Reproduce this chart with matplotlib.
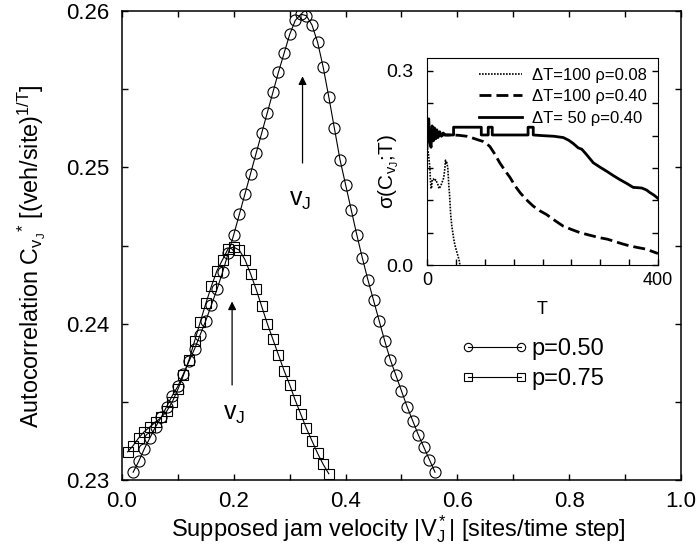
import numpy as np
import matplotlib
matplotlib.use('Agg')
import matplotlib.pyplot as plt
from matplotlib.ticker import MultipleLocator

plt.rcParams['font.family'] = ['Liberation Sans', 'DejaVu Sans']
plt.rcParams['mathtext.fontset'] = 'custom'
plt.rcParams['mathtext.rm'] = 'Liberation Sans'
plt.rcParams['mathtext.it'] = 'Liberation Sans:italic'

# main panel: autocorrelation vs supposed jam velocity
v_p050 = np.round(np.arange(0.02, 0.565, 0.01), 2)
c_p050 = [0.2305, 0.2312, 0.2320, 0.2327, 0.2334, 0.2340, 0.2347, 0.2354, 0.2360,
          0.2368, 0.2376, 0.2384, 0.2393, 0.2402, 0.2412, 0.2422, 0.2433, 0.2445,
          0.2457, 0.2470, 0.2483, 0.2496, 0.2509, 0.2522, 0.2535, 0.2548, 0.2561,
          0.2573, 0.2585, 0.2594, 0.2598, 0.2597, 0.2591, 0.2580, 0.2564, 0.2545,
          0.2525, 0.2505, 0.2489, 0.2473, 0.2457, 0.2442, 0.2428, 0.2415, 0.2402,
          0.2389, 0.2377, 0.2367, 0.2357, 0.2347, 0.2338, 0.2329, 0.2321, 0.2313,
          0.2305]

v_p075 = np.round(np.arange(0.01, 0.375, 0.01), 2)
c_p075 = [0.2318, 0.2322, 0.2327, 0.2331, 0.2334, 0.2337, 0.2340, 0.2344, 0.2350,
          0.2358, 0.2367, 0.2377, 0.2389, 0.2401, 0.2413, 0.2424, 0.2434, 0.2441,
          0.2448, 0.2449, 0.2447, 0.2441, 0.2432, 0.2422, 0.2411, 0.2400, 0.2390,
          0.2380, 0.2370, 0.2361, 0.2351, 0.2342, 0.2333, 0.2325, 0.2317, 0.2310,
          0.2304]

# inset: sigma vs T
T_a = [0, 1, 2, 3, 5, 6, 7, 8, 9, 11, 13, 15, 17, 19, 21, 23, 25, 27, 29, 31, 32,
       33, 34, 36, 38, 39, 41, 43, 46, 48, 51, 54, 56, 57]
s_a = [0.160, 0.172, 0.175, 0.168, 0.150, 0.130, 0.118, 0.120, 0.132, 0.133, 0.130,
       0.132, 0.128, 0.124, 0.118, 0.121, 0.125, 0.130, 0.135, 0.150, 0.162, 0.158,
       0.160, 0.150, 0.120, 0.110, 0.078, 0.060, 0.042, 0.032, 0.022, 0.013, 0.006,
       0.0]

T_b = [20, 40, 55, 69, 80, 90, 97, 104, 109, 117, 126, 135, 144, 152, 161, 172, 184,
       195, 207, 221, 236, 250, 265, 282, 300, 312, 323, 337, 351, 365, 380, 390, 400]
s_b = [0.201, 0.201, 0.2005, 0.199, 0.196, 0.193, 0.191, 0.187, 0.183, 0.172, 0.158,
       0.146, 0.135, 0.123, 0.112, 0.101, 0.091, 0.084, 0.078, 0.069, 0.060, 0.055,
       0.050, 0.046, 0.042, 0.040, 0.037, 0.033, 0.0295, 0.027, 0.0244, 0.021, 0.0177]

T_c = [0, 1, 3, 5, 7, 9, 11, 13, 15, 17, 19, 22, 25, 28, 32, 46, 46, 94, 94, 106, 106,
       113, 113, 175, 175, 184, 184, 200, 220, 236, 245, 253, 262, 268, 275, 288, 300,
       311, 323, 334, 346, 357, 365, 372, 380, 386, 393, 400]
s_c = [0.180, 0.210, 0.226, 0.190, 0.182, 0.215, 0.192, 0.212, 0.195, 0.209, 0.197,
       0.206, 0.199, 0.204, 0.201, 0.201, 0.213, 0.213, 0.201, 0.201, 0.213, 0.213,
       0.201, 0.201, 0.213, 0.213, 0.201, 0.200, 0.199, 0.197, 0.193, 0.188, 0.181,
       0.179, 0.172, 0.158, 0.151, 0.145, 0.138, 0.132, 0.126, 0.120, 0.1195, 0.119,
       0.116, 0.112, 0.108, 0.103]

fig = plt.figure(figsize=(6.97, 5.55), dpi=100)
ax = fig.add_axes([0.175, 0.1351, 0.802, 0.845])

ax.plot(v_p050, c_p050, color='k', lw=0.8, marker='o', ms=8, mfc='none', mew=0.8,
        label='p=0.50')
ax.plot(v_p075, c_p075, color='k', lw=0.8, marker='s', ms=7, mfc='none', mew=0.8,
        label='p=0.75')

ax.set_xlim(0, 1)
ax.set_ylim(0.23, 0.26)
ax.set_xticks([0, 0.2, 0.4, 0.6, 0.8, 1.0])
ax.set_xticklabels(['0.0', '0.2', '0.4', '0.6', '0.8', '1.0'])
ax.set_yticks([0.23, 0.24, 0.25, 0.26])
ax.set_yticklabels(['0.23', '0.24', '0.25', '0.26'])
ax.xaxis.set_minor_locator(MultipleLocator(0.1))
ax.yaxis.set_minor_locator(MultipleLocator(0.005))
ax.tick_params(which='both', direction='in', top=True, right=True, length=4,
               width=1, labelsize=16)
ax.tick_params(axis='y', pad=9)
ax.tick_params(axis='x', pad=8)
for sp in ax.spines.values():
    sp.set_linewidth(1.1)

ax.set_xlabel(r'Supposed jam velocity |V$\mathregular{_J^*}$| [sites/time step]',
              fontsize=17)
ax.xaxis.set_label_coords(0.494, -0.07)
ax.set_ylabel(r'Autocorrelation C$\mathregular{_{v_J}{}^{*}}$ [(veh/site)$\mathregular{^{1/T}}$]',
              fontsize=16.8)
ax.yaxis.set_label_coords(-0.132, 0.4765)

# jam velocity arrows
ax.annotate('', xy=(0.323, 0.2560), xytext=(0.323, 0.2501),
            arrowprops=dict(arrowstyle='-|>', color='k', lw=0.9, mutation_scale=12))
ax.text(0.318, 0.2479, r'v$\mathregular{_J}$', fontsize=18, ha='center', va='center')
ax.annotate('', xy=(0.197, 0.2416), xytext=(0.197, 0.2359),
            arrowprops=dict(arrowstyle='-|>', color='k', lw=0.9, mutation_scale=12))
ax.text(0.201, 0.2342, r'v$\mathregular{_J}$', fontsize=18, ha='center', va='center')

ax.legend(loc='upper left', bbox_to_anchor=(461 / 697, 1 - 338 / 555),
          bbox_transform=fig.transFigure, frameon=False, numpoints=2,
          fontsize=17, handlelength=2.85, handletextpad=0.12, borderpad=0,
          borderaxespad=0, labelspacing=0.35, markerscale=0.75)

# inset
ins = fig.add_axes([427 / 697, 1 - 265 / 555, 231 / 697, 207 / 555])
ins.plot(T_a, s_a, color='k', lw=1.2, ls=(0, (1, 0.8)), label='ΔT=100 ρ=0.08')
ins.plot(T_b, s_b, color='k', lw=2.0, ls=(0, (4.3, 1.8)), label='ΔT=100 ρ=0.40')
ins.plot(T_c, s_c, color='k', lw=2.0, label='ΔT= 50 ρ=0.40')
ins.set_xlim(0, 400)
ins.set_ylim(0, 0.32)
ins.set_xticks([0, 400])
ins.set_yticks([0.0, 0.3])
ins.set_yticklabels(['0.0', '0.3'])
ins.xaxis.set_minor_locator(MultipleLocator(50))
ins.yaxis.set_minor_locator(MultipleLocator(0.05))
ins.tick_params(which='both', direction='in', right=True, length=4, width=1,
                labelsize=13)
ins.tick_params(axis='y', pad=10, labelsize=14)
ins.tick_params(axis='x', pad=5)
ins.set_xlabel('T', fontsize=13)
ins.xaxis.set_label_coords(0.5, -0.175)
ins.set_ylabel('σ(C$\\mathregular{_{v_J}}$;T)', fontsize=15)
ins.yaxis.set_label_coords(-0.113, 0.45)
ins.legend(loc='upper left', bbox_to_anchor=(479 / 697, 1 - 68 / 555),
           bbox_transform=fig.transFigure, frameon=False, fontsize=12,
           handlelength=2.6, handletextpad=0.6, borderpad=0, borderaxespad=0,
           labelspacing=0.38)

fig.savefig('out.png', dpi=100)
